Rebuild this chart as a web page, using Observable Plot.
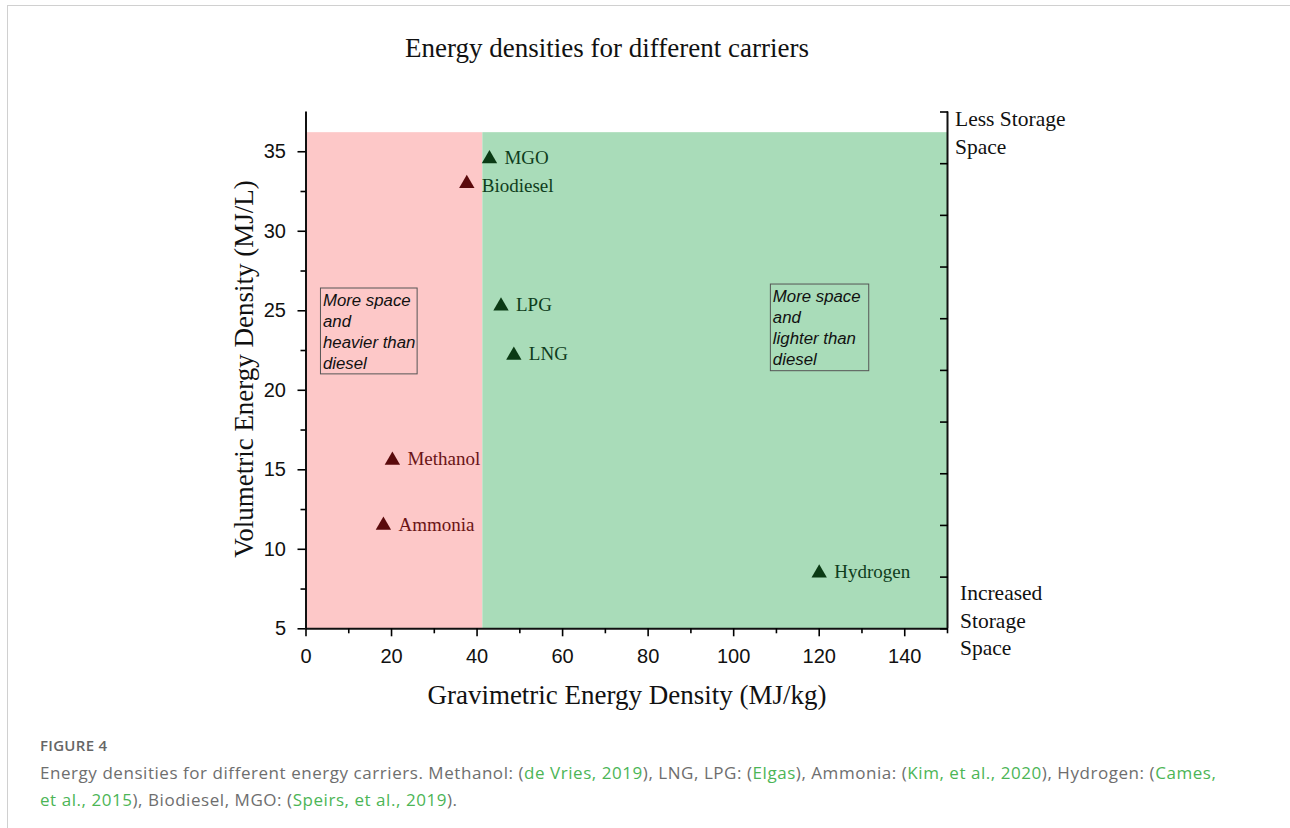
<!DOCTYPE html>
<html><head><meta charset="utf-8">
<script src="https://cdn.jsdelivr.net/npm/d3@7"></script>
<script src="https://cdn.jsdelivr.net/npm/@observablehq/plot@0.6"></script>
<style>
body{margin:0;background:#fff;width:1290px;height:828px;overflow:hidden;position:relative;font-family:"Liberation Serif","Times New Roman",serif;}
#border{position:absolute;left:7px;top:5px;right:0;bottom:0;border-top:1.5px solid #d0d0d0;border-left:1.5px solid #d0d0d0;}
#chart{position:absolute;left:0;top:0;}
.abs{position:absolute;white-space:nowrap;color:#111;}
#title{left:0;width:1214px;top:32px;text-align:center;font-size:27px;line-height:32px;}
#xlabel{left:0;width:1254px;top:679px;text-align:center;font-size:27px;line-height:32px;}
#ylabel{left:244px;top:369px;font-size:27px;line-height:32px;transform:translate(-50%,-50%) rotate(-90deg);}
.side{font-size:21.5px;line-height:27.5px;}
#cap{left:40px;top:734px;font-family:"Open Sans","Noto Sans",sans-serif;color:#6e6e6e;}
#cap .fig{font-size:15px;font-weight:600;letter-spacing:0.3px;line-height:22px;color:#666;}
#cap .txt{font-size:17px;letter-spacing:0.55px;line-height:27px;margin-top:3px;}
#cap a{color:#4cb556;text-decoration:none;}
</style></head>
<body>
<div id="border"></div>
<div id="chart"></div>
<div class="abs" id="title">Energy densities for different carriers</div>
<div class="abs" id="xlabel">Gravimetric Energy Density (MJ/kg)</div>
<div class="abs" id="ylabel">Volumetric Energy Density (MJ/L)</div>
<div class="abs side" style="left:955px;top:106px;">Less Storage<br>Space</div>
<div class="abs side" style="left:960px;top:580px;">Increased<br>Storage<br>Space</div>
<div class="abs" id="cap">
<div class="fig">FIGURE 4</div>
<div class="txt">Energy densities for different energy carriers. Methanol: (<a>de Vries, 2019</a>), LNG, LPG: (<a>Elgas</a>), Ammonia: (<a>Kim, et al., 2020</a>), Hydrogen: (<a>Cames,</a><br><a>et al., 2015</a>), Biodiesel, MGO: (<a>Speirs, et al., 2019</a>).</div>
</div>
<script>
// ---- data ----
const carriers = ["MGO", "Biodiesel", "LPG", "LNG", "Methanol", "Ammonia", "Hydrogen"];
const gravimetric = [42.9, 37.6, 45.6, 48.6, 20.2, 18.1, 120.0];   // MJ/kg
const volumetric = [34.55, 33.0, 25.3, 22.2, 15.6, 11.5, 8.5];     // MJ/L
const zone = ["lighter", "heavier", "lighter", "lighter", "heavier", "heavier", "lighter"];

const regionNames = ["heavier", "lighter"];
const regionX1 = [0, 41.35];
const regionX2 = [41.35, 150];
const regionY1 = [5, 5];
const regionY2 = [36.2, 36.2];

const noteText = ["More space\nand\nheavier than\ndiesel", "More space\nand\nlighter than\ndiesel"];
const noteX1 = [3.5, 108.7];
const noteX2 = [26.1, 131.7];
const noteY1 = [21.0, 21.2];
const noteY2 = [26.4, 26.65];

const xMajor = [0, 20, 40, 60, 80, 100, 120, 140];
const xMinor = [10, 30, 50, 70, 90, 110, 130, 150];
const yMajor = [5, 10, 15, 20, 25, 30, 35];
const yMinor = [7.5, 12.5, 17.5, 22.5, 27.5, 32.5];
const yRight = [5, 8.25, 11.5, 14.75, 18, 21.25, 24.5, 27.75, 31, 34.25, 37.5];

// ---- tables ----
const points = carriers.map((c, i) => ({name: c, x: gravimetric[i], y: volumetric[i], zone: zone[i]}));
const regions = regionNames.map((n, i) => ({name: n, x1: regionX1[i], x2: regionX2[i], y1: regionY1[i], y2: regionY2[i]}));
const notes = noteText.map((t, i) => ({text: t, x1: noteX1[i], x2: noteX2[i], y1: noteY1[i], y2: noteY2[i]}));

const fillRegion = {heavier: "#fdc8c8", lighter: "#a9dcb9"};
const markerColor = {heavier: "#5a0a0c", lighter: "#0b3a14"};
const labelColor = {heavier: "#6a1416", lighter: "#0f3d1c"};
const sans = "'Liberation Sans', Arial, sans-serif";
const serif = "'Liberation Serif', 'Times New Roman', serif";
const noLabel = () => "";

const chart = Plot.plot({
  width: 1290,
  height: 720,
  marginLeft: 305.5,
  marginRight: 1290 - 947,
  marginTop: 111.5,
  marginBottom: 720 - 628.3,
  style: {background: "transparent", overflow: "visible"},
  x: {domain: [0, 150]},
  y: {domain: [5, 37.5]},
  marks: [
    Plot.rect(regions, {x1: "x1", x2: "x2", y1: "y1", y2: "y2", fill: d => fillRegion[d.name]}),
    Plot.rect(notes, {x1: "x1", x2: "x2", y1: "y1", y2: "y2", fill: "none", stroke: "#555", strokeWidth: 1}),
    Plot.text(notes, {x: "x1", y: "y2", text: "text", textAnchor: "start", lineAnchor: "top", dx: 2, dy: 3,
      fontSize: 16.8, fontStyle: "italic", fontFamily: sans, fill: "#111", lineHeight: 1.25}),
    // axis lines
    Plot.ruleX([0], {stroke: "#111", strokeWidth: 2}),
    Plot.ruleX([150], {stroke: "#111", strokeWidth: 2}),
    Plot.ruleY([5], {stroke: "#111", strokeWidth: 2}),
    // axis ticks
    Plot.axisX({ticks: xMajor, tickSize: 8, tickPadding: 12, fontSize: 20, fontFamily: sans, label: null, strokeWidth: 1.6, tickFormat: d => d, fill: "#111"}),
    Plot.axisX({ticks: xMinor, tickSize: 5, tickFormat: noLabel, label: null, strokeWidth: 1.6}),
    Plot.axisY({ticks: yMajor, tickSize: 8, tickPadding: 12, fontSize: 20, fontFamily: sans, label: null, strokeWidth: 1.6, tickFormat: d => d, fill: "#111"}),
    Plot.axisY({ticks: yMinor, tickSize: 5, tickFormat: noLabel, label: null, strokeWidth: 1.6}),
    Plot.axisY({anchor: "right", ticks: yRight, tickSize: 8, insetRight: 8, tickFormat: noLabel, label: null, strokeWidth: 1.6}),
    // points
    Plot.dot(points, {x: "x", y: "y", symbol: "triangle", r: 5.7, fill: d => markerColor[d.zone], stroke: "none"}),
    Plot.text(points.filter(d => d.name !== "Biodiesel"), {x: "x", y: "y", text: "name", textAnchor: "start", dx: 15, dy: -1,
      fontSize: 19, fontFamily: serif, fill: d => labelColor[d.zone]}),
    Plot.text(points.filter(d => d.name === "Biodiesel"), {x: "x", y: "y", text: "name", textAnchor: "start", dx: 15, dy: 2,
      fontSize: 19, fontFamily: serif, fill: labelColor.lighter})
  ]
});
document.getElementById("chart").appendChild(chart);
</script>
</body></html>
